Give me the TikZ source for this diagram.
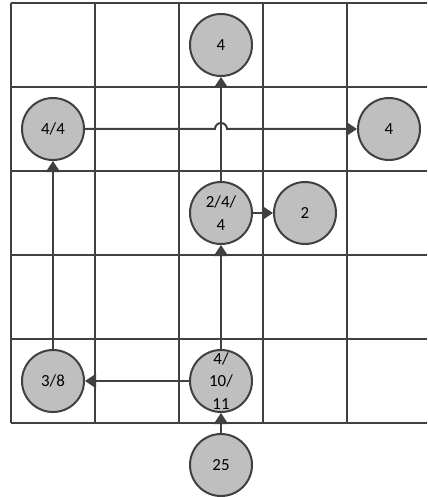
\documentclass[tikz,border=0pt]{standalone}
\usepackage{fontspec}
\setmainfont{Carlito}
\usetikzlibrary{arrows.meta}
\definecolor{linegray}{RGB}{64,64,64}
\definecolor{cellgray}{RGB}{191,191,191}

\begin{document}
\begin{tikzpicture}[x=1bp, y=-1bp,
    cell/.style={circle, draw=linegray, line width=2bp, fill=cellgray,
      minimum size=62bp, inner sep=0pt, align=center,
      font=\fontsize{17}{22.5}\selectfont},
    flow/.style={draw=linegray, line width=2bp,
      -{Triangle[length=11bp, width=14bp]}}]
    \useasboundingbox (0, 0) rectangle (427, 497);

    \foreach \y in {3, 87, 171, 255, 339, 423}
      \draw [linegray, line width=2bp] (11, \y) -- (427, \y);
    \foreach \x in {11, 95, 179, 263, 347}
      \draw [linegray, line width=2bp] (\x, 3) -- (\x, 423);

    \node [cell] (top) at (221, 45) {4};
    \node [cell] (left) at (53, 129) {4/4};
    \node [cell] (right) at (389, 129) {4};
    \node [cell] (mid) at (221, 213) {2/4/\\4};
    \node [cell] (two) at (305, 213) {2};
    \node [cell] (corner) at (53, 381) {3/8};
    \node [cell] (base) at (221, 381) {4/\\10/\\11};
    \node [cell] (start) at (221, 465) {25};

    \draw [flow] (start) -- (base);
    \draw [flow] (base) -- (corner);
    \draw [flow] (corner) -- (left);
    \draw [flow] (base) -- (mid);
    \draw [flow] (mid) -- (two);
    \draw [flow] (mid) -- (top);

    % jump over the vertical line
    \draw [flow] (left.east) -- (215, 129)
      arc [start angle=180, end angle=360, radius=6] -- (right.west);
  \end{tikzpicture}
\end{document}
